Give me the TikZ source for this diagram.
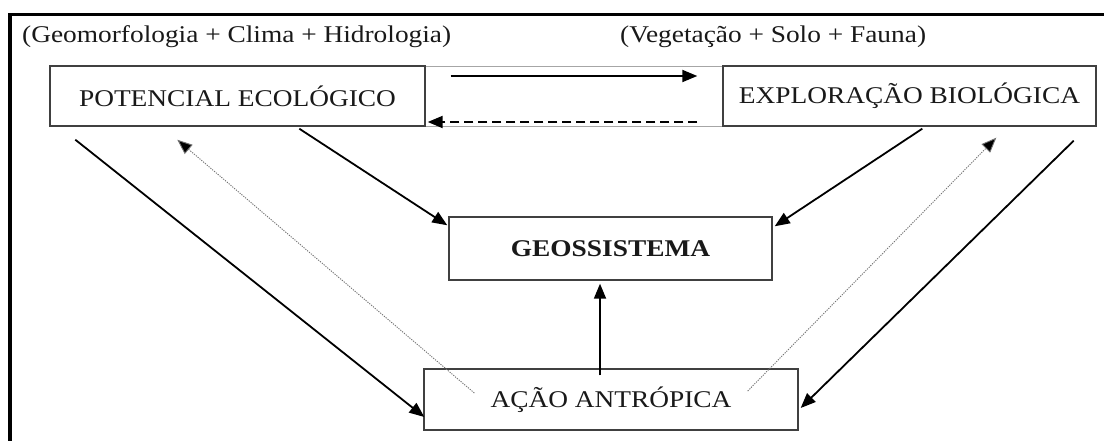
\documentclass[tikz,border=0pt]{standalone}
\usepackage{fontspec}
\usepackage{graphicx}
\setmainfont{Liberation Serif}
\usetikzlibrary{arrows.meta,calc}
\newcommand{\wtxt}[1]{\scalebox{1.14}[1]{#1}}
\tikzset{
  boxnode/.style={draw=black!75, line width=1.4pt, fill=white, inner sep=0pt, text=black!90, font=\fontsize{24}{28}\selectfont},
  labeltxt/.style={inner sep=0pt, text=black!90, font=\fontsize{24}{28}\selectfont},
  tip/.style={-{Triangle[length=15pt,width=12pt]}},
  solidarrow/.style={tip, line width=1.8pt, black},
  dottedarrow/.style={-{Triangle[length=15pt,width=12pt,fill=black]}, draw=black!55, line width=0.9pt, dash pattern=on 1.2pt off 1.2pt},
  dashedarrow/.style={tip, line width=2pt, black, dash pattern=on 9pt off 5pt},
}
\begin{document}
\begin{tikzpicture}[x=1pt,y=-1pt]
\useasboundingbox (0,0) rectangle (1104,441);
\fill[white] (0,0) rectangle (1104,441);
% outer frame (top and left)
\fill[black] (8,13) rectangle (1104,16);
\fill[black] (8,13) rectangle (12,441);
% faint frame between the two top boxes
\draw[black!35, line width=0.8pt] (425,66) rectangle (723,126);
% top labels
\node[labeltxt, anchor=base west] (lab1) at (22,43) {\wtxt{(Geomorfologia + Clima + Hidrologia)}};
\node[labeltxt, anchor=base west] (lab2) at (620,43) {\wtxt{(Vegetação + Solo + Fauna)}};
% boxes
\node[boxnode, minimum width=375pt, minimum height=60pt] (pot) at (237.5,96) {\wtxt{POTENCIAL ECOLÓGICO}};
\node[boxnode, minimum width=373pt, minimum height=60pt] (exp) at (909.5,96) {\wtxt{EXPLORAÇÃO BIOLÓGICA}};
\node[boxnode, minimum width=323pt, minimum height=63pt] (geo) at (610.5,248.5) {\wtxt{\bfseries GEOSSISTEMA}};
\node[boxnode, minimum width=374pt, minimum height=61pt] (acao) at (611,399.5) {\wtxt{AÇÃO ANTRÓPICA}};
% horizontal arrows between top boxes
\draw[solidarrow] ([xshift=25pt,yshift=20pt]pot.east) -- ([xshift=-25pt,yshift=20pt]exp.west);
\draw[dashedarrow] ([xshift=-25pt,yshift=-26pt]exp.west) -- ([xshift=2pt,yshift=-26pt]pot.east);
% arrows to geossistema
\draw[solidarrow] ([xshift=250pt,yshift=-2pt]pot.south west) -- ([xshift=-1pt,yshift=-9pt]geo.north west);
\draw[solidarrow] ([xshift=200pt,yshift=-2pt]exp.south west) -- ([xshift=2pt,yshift=-10pt]geo.north east);
\draw[solidarrow] ([xshift=-11pt,yshift=-7pt]acao.north) -- ([xshift=-10.5pt,yshift=-3pt]geo.south);
% arrows to accao antropica
\draw[solidarrow] ([xshift=26pt,yshift=-13pt]pot.south west) -- ([xshift=1pt,yshift=-17.5pt]acao.west);
\draw[solidarrow] ([xshift=-23pt,yshift=-14pt]exp.south east) -- ([xshift=2pt,yshift=-8.5pt]acao.east);
% dotted feedback arrows
\draw[dottedarrow] ([xshift=51pt,yshift=6.5pt]acao.west) -- ([xshift=128pt,yshift=-13pt]pot.south west);
\draw[dottedarrow] ([xshift=-51pt,yshift=8.5pt]acao.east) -- ([xshift=274pt,yshift=-11pt]exp.south west);
\end{tikzpicture}
\end{document}
